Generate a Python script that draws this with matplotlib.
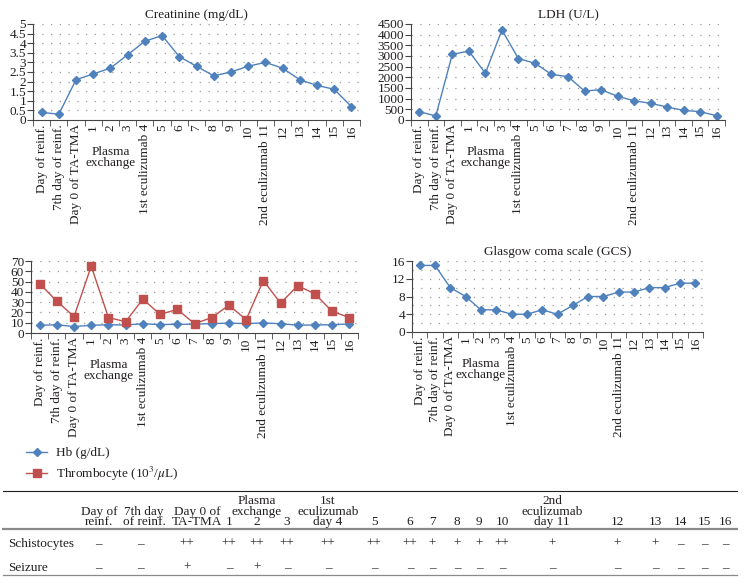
import matplotlib.pyplot as plt
import numpy as np
from matplotlib.ticker import FuncFormatter

plt.rcParams['font.family'] = ['Liberation Serif', 'DejaVu Serif']
plt.rcParams['mathtext.fontset'] = 'stix'
plt.rcParams['text.color'] = '#231f20'
plt.rcParams['xtick.color'] = '#231f20'
plt.rcParams['ytick.color'] = '#231f20'

# x categories shared by all four panels
days = ['Day of reinf.', '7th day of reinf.', 'Day 0 of TA-TMA', '1', '2', '3',
        '1st eculizumab 4', '5', '6', '7', '8', '9', '10', '2nd eculizumab 11',
        '12', '13', '14', '15', '16']

creatinine = [0.4, 0.3, 2.1, 2.4, 2.7, 3.4, 4.1, 4.4, 3.3, 2.8, 2.3, 2.5, 2.8,
              3.0, 2.7, 2.1, 1.8, 1.6, 0.7]
ldh = [390, 190, 3080, 3230, 2190, 4220, 2880, 2660, 2140, 2030, 1360, 1420,
       1110, 900, 780, 610, 450, 390, 200]
hb = [7.5, 8.0, 6.3, 7.5, 8.0, 7.8, 9.0, 8.2, 8.5, 8.5, 9.2, 9.5, 9.2, 9.8,
      9.0, 7.6, 7.8, 8.0, 8.8]
thrombocyte = [48, 31, 16, 65, 15, 11, 33, 18, 23, 9, 15, 27, 13, 51, 29, 46,
               38, 21, 15]
gcs = [15, 15, 10, 8, 5, 5, 4, 4, 5, 4, 6, 8, 8, 9, 9, 10, 10, 11, 11]

# table below the charts
col_heads = ['Day of\nreinf.', '7th day\nof reinf.', 'Day 0 of\nTA-TMA', '1',
             'Plasma\nexchange\n2', '3', '1st\neculizumab\nday 4', '5', '6', '7',
             '8', '9', '10', '2nd\neculizumab\nday 11', '12', '13', '14', '15', '16']
schistocytes = ['–', '–', '++', '++', '++', '++', '++', '++', '++', '+', '+', '+',
                '++', '+', '+', '+', '–', '–', '–']
seizure = ['–', '–', '+', '–', '+', '–', '–', '–', '–', '–', '–', '–', '–', '–',
           '–', '–', '–', '–', '–']

BLUE = '#4f81bd'
RED = '#c0504d'
FS = 9.5

W, H = 744, 584
fig = plt.figure(figsize=(W / 100, H / 100), dpi=100)


def box(l, t, r, b):
    return [l / W, 1 - b / H, (r - l) / W, (b - t) / H]


def style(ax, ymax, step, grid_step=None):
    x = np.arange(len(days))
    ax.set_xlim(-0.5, len(days) - 0.5)
    ax.set_ylim(0, ymax)
    ax.set_yticks(np.arange(0, ymax + step / 2, step))
    ax.yaxis.set_major_formatter(FuncFormatter(lambda v, p: f'{v:g}'))
    ax.set_xticks(x)
    ax.set_xticklabels(days, rotation=90, fontsize=FS)
    ax.set_xticks(np.arange(-0.5, len(days)), minor=True)
    ax.tick_params(axis='x', which='major', length=0, pad=3)
    ax.tick_params(axis='x', which='minor', length=4, direction='out', color='#444444')
    ax.tick_params(axis='y', length=4, direction='out', labelsize=FS, pad=1,
                   color='#444444')
    for s in ['top', 'right']:
        ax.spines[s].set_visible(False)
    for s in ['left', 'bottom']:
        ax.spines[s].set_color('#444444')
        ax.spines[s].set_linewidth(0.8)
    gs = grid_step if grid_step else step
    for gy in np.arange(gs, ymax + gs / 2, gs):
        ax.axhline(gy, color='#9a9a9a', lw=0.9, ls=(0, (1, 6)), zorder=0)
    ax.annotate('Plasma\nexchange', xy=(4, 0), xycoords=('data', 'axes fraction'),
                xytext=(0, -27), textcoords='offset points', ha='center',
                va='center', fontsize=FS, linespacing=0.85)


x = np.arange(len(days))

# Creatinine
ax1 = fig.add_axes(box(33, 24, 360, 120))
ax1.plot(x, creatinine, color=BLUE, lw=1.0, marker='D', ms=4.2, mfc=BLUE, mec=BLUE)
style(ax1, 5, 0.5)
ax1.set_title('Creatinine (mg/dL)', fontsize=FS, pad=4)

# LDH
ax2 = fig.add_axes(box(411, 24, 725, 120))
ax2.plot(x, ldh, color=BLUE, lw=1.0, marker='D', ms=4.2, mfc=BLUE, mec=BLUE)
style(ax2, 4500, 500)
ax2.set_title('LDH (U/L)', fontsize=FS, pad=4)

# Hb / thrombocyte
ax3 = fig.add_axes(box(31, 261, 358, 333))
l_hb, = ax3.plot(x, hb, color=BLUE, lw=1.0, marker='D', ms=3.6, mfc=BLUE, mec=BLUE)
l_tr, = ax3.plot(x, thrombocyte, color=RED, lw=1.0, marker='s', ms=5.2, mfc=RED, mec=RED)
style(ax3, 70, 10)
ax3.legend([l_hb, l_tr], ['Hb (g/dL)', r'Thrombocyte (10$^3$/$\mu$L)'],
           loc='upper left', bbox_to_anchor=(26 / W, 1 - 447 / H),
           bbox_transform=fig.transFigure, frameon=False, fontsize=FS,
           borderpad=0, borderaxespad=0, handlelength=1.6, handletextpad=0.7,
           labelspacing=0.4)

# GCS
ax4 = fig.add_axes(box(412, 261, 703, 332))
ax4.plot(x, gcs, color=BLUE, lw=1.0, marker='D', ms=3.8, mfc=BLUE, mec=BLUE)
style(ax4, 16, 4, grid_step=2)
ax4.set_title('Glasgow coma scale (GCS)', fontsize=FS, pad=4)

# table drawn in pixel coordinates
tab = fig.add_axes([0, 0, 1, 1])
tab.set_xlim(0, W)
tab.set_ylim(H, 0)
tab.axis('off')
tab.patch.set_alpha(0)

head_x = [99, 144, 197, 229, 257, 287, 328, 374, 410, 432, 457, 479, 502, 552,
          617, 655, 680, 704, 725]
col_x = [98, 140, 187, 229, 257, 287, 328, 374, 410, 432, 457, 479, 502, 552,
         617, 655, 680, 704, 725]
tab.plot([3, 737], [491, 491], color='#231f20', lw=0.8)
tab.plot([3, 737], [529, 529], color='#8a8a8a', lw=1.6)
tab.plot([3, 737], [575, 575], color='#8a8a8a', lw=0.9)
for hx, head in zip(head_x, col_heads):
    tab.text(hx, 525, head, ha='center', va='baseline', fontsize=FS,
             linespacing=0.82, multialignment='center')
for row_y, label, vals in [(544, 'Schistocytes', schistocytes),
                           (568, 'Seizure', seizure)]:
    tab.text(8, row_y, label, ha='left', va='center', fontsize=FS)
    for cx, v in zip(col_x, vals):
        tab.text(cx, row_y, v, ha='center', va='center', fontsize=FS)

fig.savefig('out.png', dpi=100)
